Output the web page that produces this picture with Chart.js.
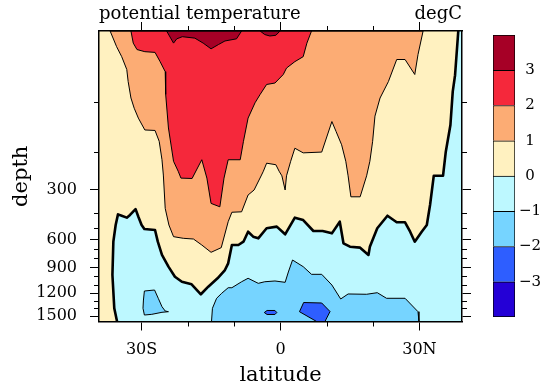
<!DOCTYPE html>
<html>
<head>
<meta charset="utf-8">
<title>potential temperature</title>
<script src="https://cdn.jsdelivr.net/npm/chart.js@4.4.1/dist/chart.umd.min.js"></script>
<style>
  body { margin: 0; background: #fff; }
  #wrap { position: relative; width: 544px; height: 388px; }
  #wrap canvas { position: absolute; }
</style>
</head>
<body>
<div id="wrap">
  <canvas id="grafico" width="544" height="388" style="left:0;top:0"></canvas>
  <canvas id="barra" width="51" height="292" style="left:493px;top:30px"></canvas>
</div>
<script>
// Axes
const latTicks = [-30, 0, 30];
const latTickLabels = ['30S', '0', '30N'];
const latMinor = [-20, -10, 10, 20];
const depthTicks = [300, 600, 900, 1200, 1500];
const depthMinor = [100, 200, 400, 500, 700, 800, 1000, 1100, 1300, 1400];
const latMin = -39.2, latMax = 39.2, depthMax = 1570;

// Contour levels (degC)
const levels = [-3, -2, -1, 0, 1, 2, 3];
const levelColors = ['#2400D6', '#2E5EFF', '#76D4FF', '#BDF8FF', '#FFF1C0', '#FCAC74', '#F5283B', '#A60026'];

// Contours, [latitude, depth]
const zeroContour = [[-35.3,1570],[-35.9,1398],[-36.3,983],[-36.1,623],[-35.6,482],[-35.1,411],[-34.3,420],[-33.2,433],
  [-32.5,415],[-31.3,384],[-30.7,427],[-30.0,482],[-29.4,511],[-27.1,520],[-26.5,623],[-25.6,763],[-24.2,886],
  [-22.8,1003],[-21.3,1063],[-19.2,1093],[-17.2,1213],[-15.6,1122],[-13.6,1022],[-12.0,924],[-11.3,851],
  [-10.5,658],[-9.1,658],[-8.0,623],[-7.0,534],[-5.9,576],[-4.8,590],[-3.0,505],[-0.8,493],[1.0,556],
  [3.1,433],[4.9,449],[7.1,528],[9.1,528],[11.1,548],[12.8,460],[13.6,640],[15.0,676],[17.2,686],[19.0,763],
  [19.3,676],[20.9,505],[23.1,420],[25.1,464],[26.9,464],[28.0,534],[29.0,623],[30.5,534],[31.6,482],
  [32.3,366],[33.1,263],[35.1,263],[35.7,200],[36.7,146],[37.2,85],[37.7,62],[38.4,0]];
const oneContour = [[-36.8,0],[-35.4,22],[-34.3,36],[-33.2,54],[-32.9,71],[-32.3,94],[-31.6,112],[-30.7,132],
  [-29.3,156],[-27.1,157],[-26.2,179],[-25.6,221],[-25.3,261],[-24.9,381],[-24.1,482],[-23.1,576],[-21.0,590],
  [-18.8,596],[-17.0,658],[-15.0,735],[-12.8,686],[-11.3,460],[-10.5,398],[-8.4,396],[-7.0,322],[-5.7,300],
  [-4.1,261],[-3.7,251],[-3.0,230],[-1.0,234],[-0.3,251],[0.3,263],[1.0,300],[1.3,263],[2.2,225],[3.1,193],
  [4.9,203],[8.9,201],[11.1,139],[12.0,159],[13.2,186],[14.1,225],[14.6,263],[15.2,330],[17.2,330],[18.6,263],
  [19.3,225],[19.9,179],[20.4,128],[21.5,94],[23.3,71],[25.1,40],[26.9,40],[29.0,61],[29.7,33],[30.8,0]];
const twoContour = [[-32.3,0],[-31.8,17],[-31.0,26],[-29.3,29],[-27.1,30],[-26.0,43],[-24.9,57],[-24.8,89],
  [-24.2,152],[-23.1,225],[-22.1,251],[-21.5,269],[-19.1,270],[-17.0,221],[-15.9,269],[-15.0,359],[-13.1,374],
  [-12.2,269],[-11.3,221],[-8.7,221],[-8.0,179],[-7.0,132],[-5.5,101],[-4.4,89],[-3.0,75],[-1.2,73],[0.6,61],
  [1.3,52],[3.1,43],[4.9,36],[5.7,17],[6.7,0]];
const threeContourA = [[-24.6,0],[-23.1,17],[-22.4,11],[-21.2,8],[-18.5,10],[-16.7,17],[-15.0,25],[-13.4,19],
  [-12.0,14],[-9.5,11],[-8.4,0]];
const threeContourB = [[-4.4,0],[-3.4,5],[-2.3,7],[-1.0,6],[-0.1,0]];
const minusOneA = [[-29.4,1173],[-27.2,1161],[-26.4,1266],[-25.6,1377],[-24.9,1434],[-24.2,1443],[-25.6,1451],
  [-27.8,1478],[-29.4,1487],[-29.7,1398],[-29.6,1289]];
const minusOneB = [[-14.9,1570],[-14.7,1398],[-13.8,1266],[-12.7,1200],[-11.3,1134],[-10.5,1134],[-8.4,1063],
  [-7.0,1022],[-4.8,1082],[-3.4,1063],[-1.2,1054],[1.0,1070],[1.7,947],[2.6,816],[4.9,886],[6.7,975],[8.9,975],
  [11.1,1102],[13.0,1275],[14.6,1209],[18.6,1213],[20.9,1193],[22.9,1266],[26.9,1266],[29.7,1443],[29.9,1570]];
const minusTwoA = [[-3.5,1454],[-2.9,1427],[-1.2,1427],[-0.8,1454],[-1.2,1480],[-2.9,1480]];
const minusTwoB = [[4.1,1443],[5.0,1322],[8.9,1328],[10.7,1441],[9.6,1570],[7.8,1570]];

// Irregular depth axis: depth -> fraction of the axis length
const depthStops = [[0,0],[100,0.2454],[200,0.4155],[300,0.5473],[400,0.6255],[500,0.6771],
  [600,0.7177],[900,0.8158],[1200,0.9029],[1500,0.9811],[1570,1]];

function interp(v, stops, a, b) {
  const n = stops.length;
  for (let i = 1; i < n; i++) {
    if (v <= stops[i][a] || i === n - 1) {
      const t = (v - stops[i - 1][a]) / (stops[i][a] - stops[i - 1][a]);
      return stops[i - 1][b] + t * (stops[i][b] - stops[i - 1][b]);
    }
  }
}

class DepthScale extends Chart.LinearScale {
  getPixelForValue(value) {
    return this.getPixelForDecimal(interp(value, depthStops, 0, 1));
  }
  getValueForPixel(pixel) {
    return interp(this.getDecimalForPixel(pixel), depthStops, 1, 0);
  }
}
DepthScale.id = 'depth';
DepthScale.defaults = Chart.LinearScale.defaults;
Chart.register(DepthScale);

Chart.defaults.font.family = 'DejaVu Serif';
Chart.defaults.color = '#000';

const ring = pts => pts.concat([pts[0]]);
const toXY = pts => pts.map(p => ({ x: p[0], y: p[1] }));
const minus = v => (v < 0 ? '\u2212' + (-v) : String(v));

function region(pts, color) {
  return {
    data: toXY(ring(pts)), showLine: true, fill: 'shape', backgroundColor: color,
    borderColor: '#000', borderWidth: 1, pointRadius: 0, clip: 0
  };
}

// first dataset is drawn on top
const datasets = [
  region(threeContourA, levelColors[7]),
  region(threeContourB, levelColors[7]),
  region(twoContour, levelColors[6]),
  region(oneContour, levelColors[5]),
  { data: toXY(zeroContour), showLine: true, fill: false, borderColor: '#000', borderWidth: 2.6,
    borderJoinStyle: 'round', pointRadius: 0, clip: 0 },
  { data: toXY([[latMin, depthMax]].concat(zeroContour, [[latMin, 0]])), showLine: true, fill: 'shape',
    backgroundColor: levelColors[4], borderColor: 'rgba(0,0,0,0)', borderWidth: 0, pointRadius: 0, clip: 0 },
  region(minusTwoA, levelColors[1]),
  region(minusTwoB, levelColors[1]),
  region(minusOneA, levelColors[2]),
  region(minusOneB, levelColors[2])
];

// Plugins
const fundo = {
  id: 'fundo',
  beforeDatasetsDraw(chart) {
    const { ctx, chartArea: a } = chart;
    ctx.save();
    ctx.fillStyle = levelColors[3];
    ctx.fillRect(a.left, a.top, a.width, a.height);
    ctx.restore();
  }
};

const minorTicks = {
  id: 'minorTicks',
  afterDraw(chart) {
    const { ctx, chartArea: a, scales } = chart;
    ctx.save();
    ctx.strokeStyle = '#000';
    ctx.lineWidth = 1;
    ctx.beginPath();
    latMinor.forEach(v => {
      const px = Math.round(scales.x.getPixelForValue(v)) + 0.5;
      ctx.moveTo(px, a.bottom); ctx.lineTo(px, a.bottom + 5);
      ctx.moveTo(px, a.top); ctx.lineTo(px, a.top - 5);
    });
    depthMinor.forEach(v => {
      const py = Math.round(scales.y.getPixelForValue(v)) + 0.5;
      ctx.moveTo(a.left, py); ctx.lineTo(a.left - 5, py);
      ctx.moveTo(a.right, py); ctx.lineTo(a.right + 5, py);
    });
    ctx.stroke();
    ctx.restore();
  }
};

const cornerStrings = {
  id: 'cornerStrings',
  afterDraw(chart) {
    const { ctx, chartArea: a } = chart;
    ctx.save();
    ctx.font = '18px "DejaVu Serif"';
    ctx.fillStyle = '#000';
    ctx.textBaseline = 'alphabetic';
    ctx.textAlign = 'left';
    ctx.fillText('potential temperature', a.left, a.top - 12);
    ctx.textAlign = 'right';
    ctx.fillText('degC', a.right, a.top - 12);
    ctx.restore();
  }
};

const eixo = {
  grid: { drawOnChartArea: false, tickLength: 9, color: '#000', lineWidth: 1 },
  border: { display: true, color: '#000', width: 1.5, z: 1 }
};

window.onload = function() {
  new Chart(document.getElementById('grafico'), {
    type: 'scatter',
    data: { datasets: datasets },
    options: {
      responsive: false,
      animation: false,
      events: [],
      layout: { padding: { top: 21, right: 72, bottom: 0, left: 0 } },
      plugins: { legend: { display: false }, tooltip: { enabled: false } },
      scales: {
        x: {
          ...eixo, type: 'linear', position: 'bottom', min: latMin, max: latMax,
          afterBuildTicks: s => { s.ticks = latTicks.map(v => ({ value: v })); },
          afterFit: s => { s.height = 66.5; },
          ticks: { callback: (v, i) => latTickLabels[i], font: { size: 16 }, padding: 10, maxRotation: 0 },
          title: { display: true, text: 'latitude', font: { size: 21 }, padding: { top: 0, bottom: 0 } }
        },
        x2: {
          ...eixo, type: 'linear', position: 'top', min: latMin, max: latMax,
          afterBuildTicks: s => { s.ticks = latTicks.map(v => ({ value: v })); },
          afterFit: s => { s.height = 10; },
          ticks: { display: false }
        },
        y: {
          ...eixo, type: 'depth', position: 'left', reverse: true, min: 0, max: depthMax,
          afterBuildTicks: s => { s.ticks = depthTicks.map(v => ({ value: v })); },
          afterFit: s => { s.width = 99; },
          ticks: { callback: v => String(v), font: { size: 16 }, padding: 13 },
          title: { display: true, text: 'depth', font: { size: 21 }, padding: { top: 9, bottom: 0 } }
        },
        y2: {
          ...eixo, type: 'depth', position: 'right', reverse: true, min: 0, max: depthMax,
          afterBuildTicks: s => { s.ticks = depthTicks.map(v => ({ value: v })); },
          afterFit: s => { s.width = 10; },
          ticks: { display: false }
        }
      }
    },
    plugins: [fundo, minorTicks, cornerStrings]
  });

  // Colour bar
  new Chart(document.getElementById('barra'), {
    type: 'bar',
    data: {
      labels: [''],
      datasets: levelColors.map((c, i) => ({
        data: [1],
        backgroundColor: c,
        borderColor: '#000',
        borderWidth: i === 0 ? 1 : { top: 1, left: 1, right: 1, bottom: 0 },
        borderSkipped: false,
        barPercentage: 1,
        categoryPercentage: 1
      }))
    },
    options: {
      responsive: false,
      animation: false,
      events: [],
      layout: { padding: { top: 5, bottom: 5, left: 0, right: 0 } },
      plugins: { legend: { display: false }, tooltip: { enabled: false } },
      scales: {
        x: { stacked: true, display: false },
        y: {
          stacked: true, position: 'right', min: 0, max: levelColors.length,
          afterBuildTicks: s => { s.ticks = levels.map((v, i) => ({ value: i + 1 })); },
          afterFit: s => { s.width = 29; s.paddingTop = 0; s.paddingBottom = 0; },
          ticks: { callback: (v, i) => minus(levels[i]), font: { size: 15 }, crossAlign: 'center', padding: 4 },
          grid: { display: false, drawTicks: false },
          border: { display: false }
        }
      }
    }
  });
};
</script>
</body>
</html>
